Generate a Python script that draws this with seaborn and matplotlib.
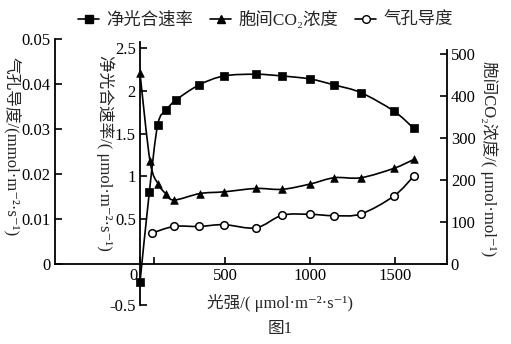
import numpy as np
import pandas as pd
import matplotlib
matplotlib.use("Agg")
import matplotlib.pyplot as plt
import seaborn as sns
from matplotlib.path import Path
from matplotlib.patches import PathPatch
from matplotlib.lines import Line2D
import matplotlib.transforms as mtransforms

# ---------------- data ----------------
light_P = [0, 55, 104, 153, 212, 347, 494, 682, 835, 1000, 1143, 1300, 1494, 1610]
net_P = [-0.23, 0.82, 1.60, 1.77, 1.89, 2.065, 2.17, 2.19, 2.17, 2.135, 2.065, 1.975, 1.76, 1.56]

light_C = [0, 59, 108, 151, 200, 353, 494, 682, 837, 1000, 1143, 1300, 1494, 1610]
co2_conc = [453, 244, 189, 167, 151.5, 167, 171, 179, 177, 189.5, 204.6, 204.6, 227, 248]

light_G = [69, 200, 347, 494, 682, 837, 1000, 1143, 1300, 1494, 1610]
stom_cond = [0.0068, 0.0083, 0.0083, 0.0087, 0.0080, 0.0108, 0.0110, 0.0107, 0.0111, 0.0151, 0.0195]

x_ticks = [0, 500, 1000, 1500]
x_ticklabels = ["0", "500", "1000", "1500"]
g_ticks = [0, 0.01, 0.02, 0.03, 0.04, 0.05]
g_ticklabels = ["0", "0.01", "0.02", "0.03", "0.04", "0.05"]
p_ticks = [-0.5, 0.5, 1, 1.5, 2, 2.5]
p_ticklabels = ["-0.5", "0.5", "1", "1.5", "2", "2.5"]
c_ticks = [0, 100, 200, 300, 400, 500]
c_ticklabels = ["0", "100", "200", "300", "400", "500"]

legend_labels = ["净光合速率", "胞间CO₂浓度", "气孔导度"]

# ---------------- style ----------------
sns.set_style("ticks")
FAMS = ["Liberation Serif", "Noto Sans CJK SC", "DejaVu Sans"]
plt.rcParams["font.family"] = FAMS
plt.rcParams["axes.unicode_minus"] = False

W, H = 511, 344
fig = plt.figure(figsize=(W / 100, H / 100), dpi=100)


def fx(px):
    return px / W


def fy(py):
    return 1 - py / H


L, R, T, B = 55, 446.7, 38, 263.7
BP = 305.3  # bottom of the inner (net photosynthesis) axis

ax = fig.add_axes([fx(L), fy(B), fx(R) - fx(L), fy(T) - fy(B)])
axP = fig.add_axes([fx(L), fy(BP), fx(R) - fx(L), fy(T) - fy(BP)], sharex=ax)
axC = ax.twinx()
axP.patch.set_visible(False)
axC.patch.set_visible(False)


def smooth_path(x, y):
    pts = np.column_stack([np.asarray(x, float), np.asarray(y, float)])
    n = len(pts)
    verts = [pts[0]]
    codes = [Path.MOVETO]
    for i in range(n - 1):
        p0 = pts[i - 1] if i > 0 else pts[i]
        p1 = pts[i]
        p2 = pts[i + 1]
        p3 = pts[i + 2] if i + 2 < n else pts[i + 1]
        c1 = p1 + (p2 - p0) / 6.0
        c2 = p2 - (p3 - p1) / 6.0
        verts += [c1, c2, p2]
        codes += [Path.CURVE4] * 3
    return Path(verts, codes)


LW = 1.2
# stomatal conductance (open circles)
ax.add_patch(PathPatch(smooth_path(light_G, stom_cond), facecolor="none",
                       edgecolor="black", lw=LW, zorder=2))
sns.scatterplot(x=light_G, y=stom_cond, ax=ax, marker="o", s=30, color="white",
                edgecolor="black", linewidth=1.1, zorder=3, legend=False)

# net photosynthesis (filled squares)
axP.add_patch(PathPatch(smooth_path(light_P, net_P), facecolor="none",
                        edgecolor="black", lw=LW, zorder=2))
sns.scatterplot(x=light_P, y=net_P, ax=axP, marker="s", s=30, color="black",
                edgecolor="black", linewidth=0.5, zorder=3, legend=False)

# intercellular CO2 (filled triangles)
axC.add_patch(PathPatch(smooth_path(light_C, co2_conc), facecolor="none",
                        edgecolor="black", lw=LW, zorder=2))
sns.scatterplot(x=light_C, y=co2_conc, ax=axC, marker="^", s=30, color="black",
                edgecolor="black", linewidth=0.5, zorder=3, legend=False)

# ---------------- limits ----------------
ax.set_xlim(-500, 1804)
ax.set_ylim(0, 0.0503)
axP.set_ylim(-0.5, 2.612)
axC.set_ylim(0, 537)
for a in (ax, axP, axC):
    a.set_xlabel("")
    a.set_ylabel("")

# ---------------- spines ----------------
for a in (ax, axP, axC):
    for s in a.spines.values():
        s.set_visible(False)
        s.set_linewidth(1.3)
        s.set_color("black")
ax.spines["left"].set_visible(True)
ax.spines["left"].set_bounds(0, 0.05)
ax.spines["bottom"].set_visible(True)
axP.spines["left"].set_visible(True)
axP.spines["left"].set_position(("data", 0))
axP.spines["left"].set_bounds(-0.5, 2.57)
axC.spines["right"].set_visible(True)
axC.spines["right"].set_bounds(0, 508)

# ---------------- ticks ----------------
tp = dict(direction="in", length=5, width=1.2, labelsize=12, colors="black", pad=3)
ax.set_xticks(x_ticks)
ax.set_xticklabels(x_ticklabels)
ax.set_xticks([84], minor=True)
ax.set_yticks(g_ticks)
ax.set_yticklabels(g_ticklabels)
ax.tick_params(axis="x", which="both", top=False, **tp)
ax.tick_params(axis="y", which="both", right=False, **tp)

axP.set_yticks(p_ticks)
axP.set_yticklabels(p_ticklabels)
axP.tick_params(axis="x", which="both", bottom=False, top=False,
                labelbottom=False, labeltop=False)
axP.tick_params(axis="y", which="both", left=True, right=False, **tp)

axC.set_yticks(c_ticks)
axC.set_yticklabels(c_ticklabels)
axC.tick_params(axis="y", which="both", left=False, right=True, **tp)
axC.tick_params(axis="x", which="both", bottom=False, top=False,
                labelbottom=False, labeltop=False)

# shift the "0" x tick label a little to the left (it sits beside the inner axis)
lab0 = ax.xaxis.get_major_ticks()[0].label1
lab0.set_transform(lab0.get_transform() +
                   mtransforms.ScaledTranslation(-0.07, 0, fig.dpi_scale_trans))

# ---------------- axis titles ----------------
fs = 12
fig.text(fx(11), fy(147), "气孔导度/(mmol·m⁻²·s⁻¹)", rotation=-90,
         ha="center", va="center", fontsize=fs, family=FAMS)
fig.text(fx(105), fy(153), "净光合速率/( μmol·m⁻²·s⁻¹)", rotation=-90,
         ha="center", va="center", fontsize=fs, family=FAMS)
fig.text(fx(489), fy(159), "胞间CO₂浓度/( μmol·mol⁻¹)", rotation=-90,
         ha="center", va="center", fontsize=fs, family=FAMS)
fig.text(fx(280), fy(303), "光强/( μmol·m⁻²·s⁻¹)",
         ha="center", va="center", fontsize=fs, family=FAMS)
fig.text(fx(280), fy(329), "图1", ha="center", va="center", fontsize=fs, family=FAMS)

# ---------------- legend ----------------
handles = [
    Line2D([], [], color="black", lw=LW, marker="s", ms=5.5, mfc="black", mec="black"),
    Line2D([], [], color="black", lw=LW, marker="^", ms=5.5, mfc="black", mec="black"),
    Line2D([], [], color="black", lw=LW, marker="o", ms=5.5, mfc="white", mec="black"),
]
fig.legend(handles, legend_labels, loc="center", bbox_to_anchor=(fx(265.5), fy(20)),
           ncol=3, frameon=False, fontsize=12.5, handlelength=1.2, handletextpad=0.4,
           columnspacing=1.0, borderaxespad=0, borderpad=0)

fig.savefig("out.png", dpi=100)
